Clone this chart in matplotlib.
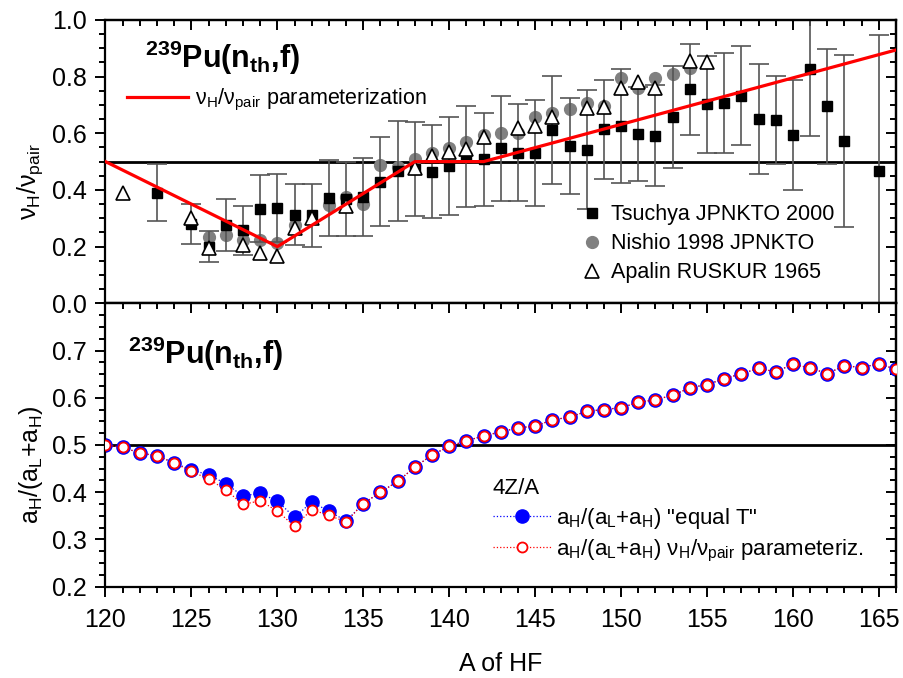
import matplotlib
matplotlib.use('Agg')
import matplotlib.pyplot as plt
from matplotlib.lines import Line2D
from matplotlib.ticker import MultipleLocator

plt.rcParams['font.family'] = ['Liberation Sans', 'DejaVu Sans']
plt.rcParams['mathtext.fontset'] = 'custom'
plt.rcParams['mathtext.rm'] = 'Liberation Sans'
plt.rcParams['mathtext.default'] = 'regular'

# --- top panel: nu_H / nu_pair data ---
tsuchya_A = [123, 125, 126, 127, 128, 129, 130, 131, 132, 133, 134, 135, 136, 137, 138,
             139, 140, 141, 142, 143, 144, 145, 146, 147, 148, 149, 150, 151, 152, 153,
             154, 155, 156, 157, 158, 159, 160, 161, 162, 163, 165]
tsuchya_v = [0.39, 0.28, 0.20, 0.275, 0.257, 0.333, 0.335, 0.313, 0.31, 0.372, 0.367, 0.375,
             0.429, 0.468, 0.474, 0.465, 0.484, 0.517, 0.508, 0.547, 0.532, 0.532, 0.612,
             0.556, 0.541, 0.614, 0.626, 0.597, 0.592, 0.659, 0.755, 0.702, 0.706, 0.732,
             0.651, 0.647, 0.595, 0.826, 0.696, 0.573, 0.468]
tsuchya_err = [0.10, 0.07, 0.056, 0.092, 0.085, 0.118, 0.12, 0.107, 0.11, 0.135, 0.13, 0.137,
               0.158, 0.177, 0.167, 0.163, 0.172, 0.178, 0.163, 0.186, 0.17, 0.187, 0.19,
               0.17, 0.21, 0.175, 0.2, 0.167, 0.178, 0.18, 0.16, 0.17, 0.177, 0.175,
               0.194, 0.155, 0.194, 0.236, 0.203, 0.303, 0.48]

nishio_A = [126, 127, 128, 129, 130, 131, 133, 134, 135, 136, 137, 138, 139, 140, 141, 142,
            143, 144, 145, 146, 147, 148, 149, 150, 151, 152, 153, 154]
nishio_v = [0.235, 0.241, 0.223, 0.223, 0.214, 0.276, 0.347, 0.376, 0.35, 0.488, 0.482,
            0.508, 0.529, 0.547, 0.57, 0.594, 0.6, 0.6, 0.657, 0.671, 0.686, 0.706, 0.696,
            0.796, 0.759, 0.796, 0.809, 0.832]

apalin_A = [121, 125, 126, 128, 129, 130, 131, 132, 134, 138, 139, 140, 141, 142, 144, 145,
            146, 148, 149, 150, 151, 152, 154, 155]
apalin_v = [0.388, 0.30, 0.194, 0.206, 0.177, 0.167, 0.265, 0.30, 0.345, 0.476, 0.52, 0.533,
            0.545, 0.588, 0.618, 0.626, 0.657, 0.688, 0.692, 0.759, 0.782, 0.761, 0.855, 0.853]

param_A = [120, 130, 138, 142, 166]
param_v = [0.5, 0.2, 0.5, 0.5, 0.894]

# --- bottom panel: a_H/(a_L+a_H) ---
a_A = list(range(120, 167))
equal_T = [0.5, 0.495, 0.483, 0.477, 0.462, 0.447, 0.437, 0.418, 0.392, 0.398, 0.381, 0.347,
           0.379, 0.36, 0.339, 0.376, 0.4, 0.423, 0.453, 0.479, 0.497, 0.509, 0.519, 0.528,
           0.536, 0.54, 0.553, 0.559, 0.571, 0.575, 0.579, 0.59, 0.596, 0.605, 0.621, 0.628,
           0.64, 0.651, 0.662, 0.655, 0.671, 0.663, 0.651, 0.668, 0.664, 0.672, 0.66]
nu_param = [0.5, 0.495, 0.483, 0.477, 0.462, 0.444, 0.428, 0.405, 0.374, 0.382, 0.36, 0.328,
            0.363, 0.351, 0.337, 0.376, 0.4, 0.423, 0.453, 0.479, 0.497, 0.509, 0.519, 0.528,
            0.536, 0.54, 0.553, 0.559, 0.571, 0.575, 0.579, 0.59, 0.596, 0.605, 0.621, 0.628,
            0.64, 0.651, 0.662, 0.655, 0.671, 0.663, 0.651, 0.668, 0.664, 0.672, 0.66]

TICK_FS = 18
LEG_FS = 15.5

fig = plt.figure(figsize=(9.04, 6.78), dpi=100)
ax1 = fig.add_axes([0.1167, 0.5527, 0.8745, 0.4179])
ax2 = fig.add_axes([0.1167, 0.1347, 0.8745, 0.4180])


def style_axes(ax, ymaj, ymin):
    ax.set_xlim(120, 166)
    ax.xaxis.set_major_locator(MultipleLocator(5))
    ax.xaxis.set_minor_locator(MultipleLocator(1))
    ax.yaxis.set_minor_locator(MultipleLocator(ymin))
    for s in ax.spines.values():
        s.set_linewidth(1.6)
    ax.tick_params(which='both', direction='out', top=False, right=False,
                   width=1.4, labelsize=TICK_FS)
    ax.tick_params(which='major', length=7.5, pad=6)
    ax.tick_params(axis='x', which='major', pad=8)
    ax.tick_params(which='minor', length=4.5)
    # inward ticks on top and right
    top = ax.secondary_xaxis('top')
    top.xaxis.set_major_locator(MultipleLocator(5))
    top.xaxis.set_minor_locator(MultipleLocator(1))
    top.tick_params(which='both', direction='in', labeltop=False, width=1.4)
    top.tick_params(which='major', length=7.5)
    top.tick_params(which='minor', length=4.5)
    top.spines['top'].set_linewidth(1.6)
    right = ax.secondary_yaxis('right')
    right.yaxis.set_major_locator(MultipleLocator(ymaj))
    right.yaxis.set_minor_locator(MultipleLocator(ymin))
    right.tick_params(which='both', direction='in', labelright=False, width=1.4)
    right.tick_params(which='major', length=7.5)
    right.tick_params(which='minor', length=4.5)
    right.spines['right'].set_linewidth(1.6)


# top panel
ax1.axhline(0.5, color='black', lw=2.0, zorder=1)
ax1.plot(nishio_A, nishio_v, 'o', ms=8.5, color='#808080', zorder=1.5)
ax1.errorbar(tsuchya_A, tsuchya_v, yerr=tsuchya_err, fmt='s', ms=7.5, color='black',
             ecolor='#555555', elinewidth=1.2, capsize=7, capthick=1.2, zorder=2)
ax1.plot(apalin_A, apalin_v, '^', ms=9.5, mfc='white', mec='black', mew=1.2, zorder=3)
ax1.plot(param_A, param_v, '-', color='#ff0000', lw=2.3, zorder=4)

ax1.set_ylim(0, 1.0)
ax1.set_yticks([0.0, 0.2, 0.4, 0.6, 0.8, 1.0])
ax1.set_yticklabels(['0.0', '0.2', '0.4', '0.6', '0.8', '1.0'])
style_axes(ax1, 0.2, 0.05)
ax1.tick_params(labelbottom=False)
ax1.set_ylabel('ν$_H$/ν$_{pair}$', fontsize=18)
ax1.yaxis.set_label_coords(-0.076, 0.43)
ax1.text(0.05, 0.83, '$^{239}$Pu(n$_{th}$,f)', transform=ax1.transAxes,
         fontsize=22, fontweight='bold', va='baseline')

leg1 = ax1.legend([Line2D([], [], color='#ff0000', lw=2.3)],
                  ['ν$_H$/ν$_{pair}$ parameterization'],
                  loc='center left', bbox_to_anchor=(0.027, 0.716), frameon=False,
                  fontsize=LEG_FS, handlelength=2.85, handletextpad=0.33,
                  borderpad=0, borderaxespad=0)
ax1.add_artist(leg1)
h_sq = Line2D([], [], ls='none', marker='s', ms=7.5, color='black')
h_ci = Line2D([], [], ls='none', marker='o', ms=8.5, color='#808080')
h_tr = Line2D([], [], ls='none', marker='^', ms=9.5, mfc='white', mec='black', mew=1.2)
ax1.legend([h_sq, h_ci, h_tr],
           ['Tsuchya JPNKTO 2000', 'Nishio 1998 JPNKTO', 'Apalin RUSKUR 1965'],
           loc='center left', bbox_to_anchor=(0.602, 0.210), frameon=False,
           fontsize=LEG_FS, handlelength=1.0, handletextpad=0.38, labelspacing=0.38,
           borderpad=0, borderaxespad=0)

# bottom panel
ax2.axhline(0.5, color='black', lw=2.0, zorder=1)
l_eq, = ax2.plot(a_A, equal_T, ':', color='#0000ff', lw=0.9, marker='o', ms=9.5,
                 mfc='#0000ff', mec='#0000ff', zorder=2)
l_nu, = ax2.plot(a_A, nu_param, ':', color='#ff0000', lw=0.9, marker='o', ms=7.2,
                 mfc='white', mec='#ff0000', mew=1.3, zorder=3)
ax2.set_ylim(0.2, 0.8)
ax2.set_yticks([0.2, 0.3, 0.4, 0.5, 0.6, 0.7])
style_axes(ax2, 0.1, 0.025)
ax2.set_xticks(range(120, 170, 5))
ax2.set_xlabel('A of HF', fontsize=18, labelpad=14)
ax2.set_ylabel('a$_H$/(a$_L$+a$_H$)', fontsize=18)
ax2.yaxis.set_label_coords(-0.076, 0.43)
ax2.text(0.029, 0.787, '$^{239}$Pu(n$_{th}$,f)', transform=ax2.transAxes,
         fontsize=22, fontweight='bold', va='baseline')
ax2.legend([l_eq, l_nu],
           ['a$_H$/(a$_L$+a$_H$) "equal T"', 'a$_H$/(a$_L$+a$_H$) ν$_H$/ν$_{pair}$ parameteriz.'],
           title='4Z/A', title_fontsize=16, alignment='left',
           loc='center left', bbox_to_anchor=(0.49, 0.232), frameon=False,
           fontsize=16, handlelength=2.6, handletextpad=0.25, labelspacing=0.3,
           borderpad=0, borderaxespad=0)

fig.savefig('out.png', dpi=100)
